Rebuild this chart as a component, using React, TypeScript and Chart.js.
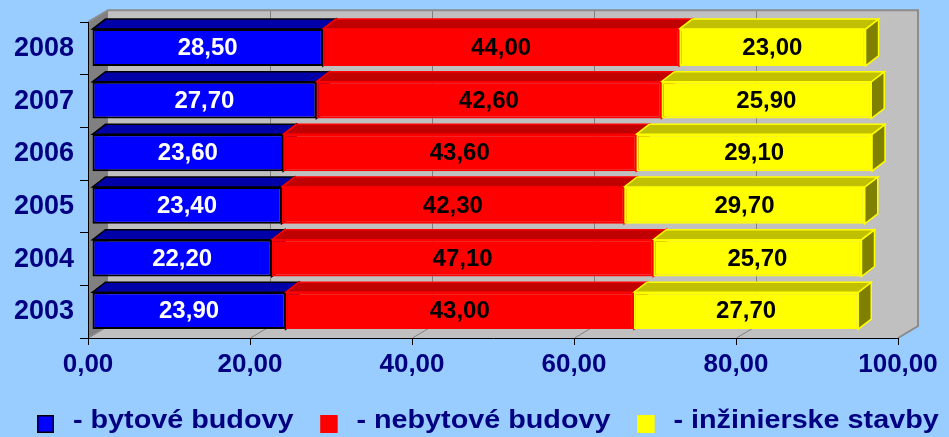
import React, { useEffect, useRef } from 'react';
import { Chart, registerables } from 'chart.js';

Chart.register(...registerables);

// ---- data ----
const years = ['2008', '2007', '2006', '2005', '2004', '2003'];
const bytoveBudovy = [28.5, 27.7, 23.6, 23.4, 22.2, 23.9];
const nebytoveBudovy = [44.0, 42.6, 43.6, 42.3, 47.1, 43.0];
const inzinierskeStavby = [23.0, 25.9, 29.1, 29.7, 25.7, 27.7];
const seriesNames = ['- bytové budovy', '- nebytové budovy', '- inžinierske stavby'];
const xTickValues = [0, 20, 40, 60, 80, 100];

// ---- styles ----
const FONT = '"Liberation Sans", Arial, sans-serif';
const NAVY = '#000080';
const seriesStyle = [
  { front: '#0000FF', top: '#0000A8', side: '#000080', border: '#000000', label: '#FFFFFF' },
  { front: '#FF0000', top: '#C00000', side: '#800000', border: '#FF0000', label: '#000000' },
  { front: '#FFFF00', top: '#C0C000', side: '#808000', border: '#FFFF00', label: '#000000' },
];
const WALL_DX = 20, WALL_DY = 12, BAR_DX = 13, BAR_DY = 10, SHIFT_X = 4, SHIFT_Y = -1;
const LEGEND_STRETCH = 1.15;

const fmt = (v: number) => Number(v).toFixed(2).replace('.', ',');

function poly(ctx: CanvasRenderingContext2D, pts: number[][], fill?: string, stroke?: string, lw = 1) {
  ctx.beginPath();
  pts.forEach(([x, y], i) => (i ? ctx.lineTo(x, y) : ctx.moveTo(x, y)));
  ctx.closePath();
  if (fill) { ctx.fillStyle = fill; ctx.fill(); }
  if (stroke) { ctx.strokeStyle = stroke; ctx.lineWidth = lw; ctx.stroke(); }
}

const excel3d = {
  id: 'excel3d',
  beforeDraw(chart: any) {
    const { ctx, chartArea: a, width, height } = chart;
    ctx.save();
    ctx.fillStyle = '#99CCFF';
    ctx.fillRect(0, 0, width, height);
    const bx = a.left + WALL_DX, by = a.top - WALL_DY;
    const bb = a.bottom - WALL_DY, br = a.right + WALL_DX;
    // back wall
    ctx.fillStyle = '#C0C0C0';
    ctx.fillRect(bx, by, a.right - a.left, a.bottom - a.top);
    // left wall
    poly(ctx, [[a.left, a.top], [bx, by], [bx, bb], [a.left, a.bottom]], '#808080');
    // floor
    poly(ctx, [[a.left, a.bottom], [a.right, a.bottom], [br, bb], [bx, bb]], '#C0C0C0');
    // gridlines
    const xs = chart.scales.x;
    ctx.strokeStyle = '#808080';
    ctx.lineWidth = 1;
    xTickValues.forEach((v) => {
      const x = Math.round(xs.getPixelForValue(v)) + 0.5;
      if (v > 0 && v < 100) {
        ctx.beginPath();
        ctx.moveTo(x + WALL_DX, by);
        ctx.lineTo(x + WALL_DX, bb);
        ctx.stroke();
      }
      ctx.beginPath();
      ctx.moveTo(x, a.bottom);
      ctx.lineTo(x + WALL_DX, bb);
      ctx.stroke();
    });
    // wall outline
    ctx.lineWidth = 2;
    ctx.strokeStyle = '#8C8C8C';
    ctx.beginPath();
    ctx.moveTo(a.left, a.top);
    ctx.lineTo(bx, by);
    ctx.lineTo(br, by);
    ctx.lineTo(br, bb);
    ctx.lineTo(a.right, a.bottom);
    ctx.stroke();
    ctx.restore();
  },
  beforeDatasetsDraw(chart: any) {
    const { ctx } = chart;
    ctx.save();
    ctx.translate(SHIFT_X, SHIFT_Y);
    years.forEach((_, i) => {
      chart.data.datasets.forEach((ds: any, d: number) => {
        const el = chart.getDatasetMeta(d).data[i];
        if (!el) return;
        const { x, y, base, height } = el.getProps(['x', 'y', 'base', 'height'], true);
        const st = seriesStyle[d];
        const yt = y - height / 2, yb = y + height / 2;
        // right face
        poly(ctx, [[x, yt], [x + BAR_DX, yt - BAR_DY], [x + BAR_DX, yb - BAR_DY], [x, yb]], st.side, st.border, 1.5);
        // top face
        poly(ctx, [[base, yt], [x, yt], [x + BAR_DX, yt - BAR_DY], [base + BAR_DX, yt - BAR_DY]], st.top, st.border, 1.5);
      });
    });
  },
  afterDatasetsDraw(chart: any) {
    const { ctx } = chart;
    ctx.font = `bold 24px ${FONT}`;
    ctx.textAlign = 'center';
    ctx.textBaseline = 'middle';
    chart.data.datasets.forEach((ds: any, d: number) => {
      chart.getDatasetMeta(d).data.forEach((el: any, i: number) => {
        const { x, y, base } = el.getProps(['x', 'y', 'base'], true);
        ctx.fillStyle = seriesStyle[d].label;
        ctx.fillText(fmt(ds.data[i]), (x + base) / 2, y + 1);
      });
    });
    ctx.restore();
  },
  afterDraw(chart: any) {
    const { ctx } = chart;
    ctx.save();
    ctx.font = `bold 25px ${FONT}`;
    ctx.textAlign = 'left';
    ctx.textBaseline = 'alphabetic';
    let x = 37;
    const boxY = 415, box = 17, baseY = 428;
    chart.data.datasets.forEach((ds: any, d: number) => {
      const st = seriesStyle[d];
      ctx.fillStyle = st.front;
      ctx.fillRect(x, boxY, box, box + 1);
      ctx.strokeStyle = st.border;
      ctx.lineWidth = 1.5;
      ctx.strokeRect(x + 0.75, boxY + 0.75, box - 1.5, box - 0.5);
      x += box + 19;
      ctx.save();
      ctx.translate(x, baseY);
      ctx.scale(LEGEND_STRETCH, 1);
      ctx.fillStyle = NAVY;
      ctx.fillText(ds.label, 0, 0);
      ctx.restore();
      x += ctx.measureText(ds.label).width * LEGEND_STRETCH + 27;
    });
    ctx.restore();
  },
};

export default function App() {
  const ref = useRef<HTMLCanvasElement>(null);
  useEffect(() => {
    if (!ref.current) return;
    const series = [bytoveBudovy, nebytoveBudovy, inzinierskeStavby];
    const chart = new Chart(ref.current, {
      type: 'bar',
      data: {
        labels: years,
        datasets: series.map((data, d) => ({
          label: seriesNames[d],
          data,
          backgroundColor: seriesStyle[d].front,
          borderColor: seriesStyle[d].border,
          borderWidth: 2,
          borderSkipped: false,
          barPercentage: 0.7,
          categoryPercentage: 1.0,
        })),
      },
      options: {
        indexAxis: 'y',
        animation: false,
        responsive: false,
        maintainAspectRatio: false,
        layout: { padding: { top: 22, right: 51, left: 0, bottom: 0 } },
        plugins: { legend: { display: false }, tooltip: { enabled: false } },
        scales: {
          x: {
            stacked: true,
            min: 0,
            max: 100,
            afterFit: (s: any) => { s.height = 99; },
            afterBuildTicks: (s: any) => { s.ticks = xTickValues.map((v) => ({ value: v })); },
            ticks: {
              color: NAVY,
              font: { family: FONT, size: 26, weight: 'bold' },
              padding: 4,
              maxRotation: 0,
              callback: (v: any) => fmt(v),
            },
            grid: { drawOnChartArea: false, tickLength: 7, color: '#000000' },
            border: { color: '#000000', width: 1 },
          },
          y: {
            stacked: true,
            afterFit: (s: any) => { s.width = 88; },
            ticks: {
              color: NAVY,
              font: { family: FONT, size: 27, weight: 'bold' },
              padding: 6,
            },
            grid: { offset: true, drawOnChartArea: false, tickLength: 8, color: '#000000' },
            border: { color: '#000000', width: 1 },
          },
        },
      },
      plugins: [excel3d],
    } as any);
    return () => chart.destroy();
  }, []);
  return (
    <div style={{ position: 'fixed', left: 0, top: 0, width: 949, height: 437, background: '#99CCFF' }}>
      <canvas ref={ref} width={949} height={437} style={{ display: 'block' }} />
    </div>
  );
}
